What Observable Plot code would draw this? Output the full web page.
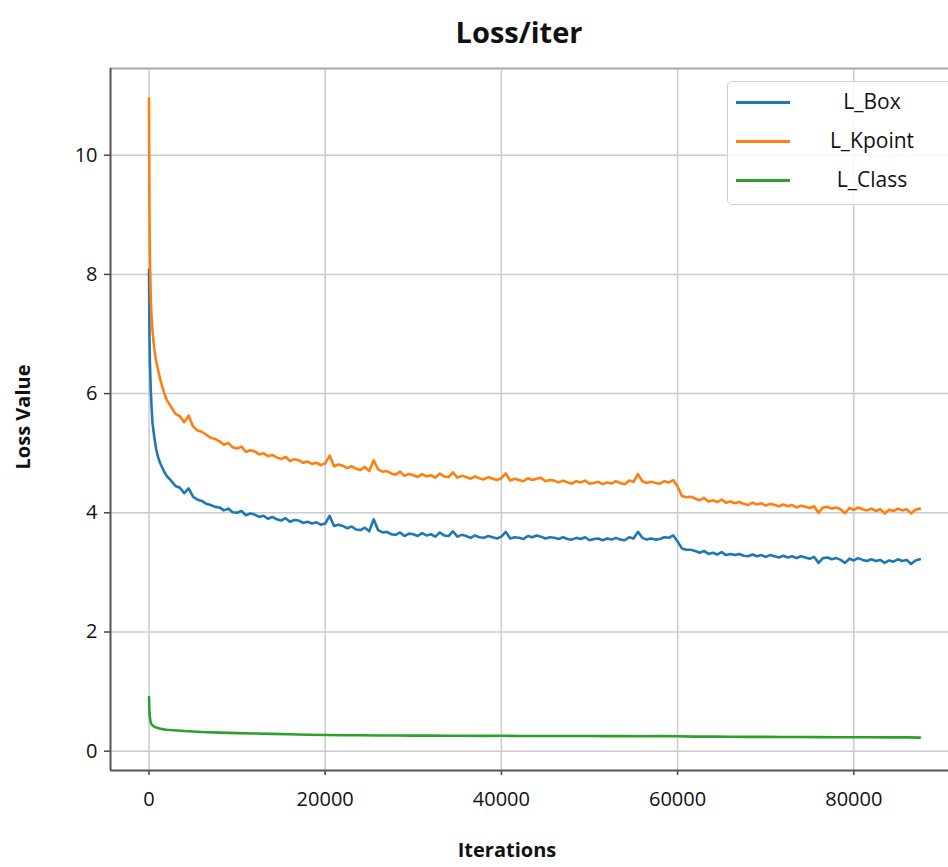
<!DOCTYPE html>
<html>
<head>
<meta charset="utf-8">
<script src="https://cdn.jsdelivr.net/npm/d3@7"></script>
<script src="https://cdn.jsdelivr.net/npm/@observablehq/plot@0.6"></script>
<style>
  html, body { margin: 0; padding: 0; background: #fff; }
  #wrap { position: relative; width: 948px; height: 867px; overflow: hidden; font-family: "Open Sans", sans-serif; color: #111; }
  #wrap svg { position: absolute; left: 0; top: 0; }
  .lbl { position: absolute; font-weight: 700; white-space: nowrap; }
  #title { left: 0; width: 1038px; top: 12px; text-align: center; font-size: 29px; line-height: 40px; }
  #xlab { left: 0; width: 1014px; top: 836px; text-align: center; font-size: 20px; line-height: 28px; }
  #ylab { left: 23px; top: 417px; font-size: 20px; line-height: 28px; transform: translate(-50%, -50%) rotate(-90deg); }
  #legend { position: absolute; left: 727px; top: 81px; width: 226px; height: 124px; border: 1px solid #d0d0d0; border-radius: 5px; background: rgba(255,255,255,0.85); box-sizing: border-box; }
  .lg-line { position: absolute; left: 8px; width: 54px; height: 3px; }
  .lg-text { position: absolute; left: 86px; width: 116px; text-align: center; font-size: 21px; line-height: 28px; color: #111; }
</style>
</head>
<body>
<div id="wrap">
  <div id="chart"></div>
  <div id="title" class="lbl">Loss/iter</div>
  <div id="xlab" class="lbl">Iterations</div>
  <div id="ylab" class="lbl">Loss Value</div>
  <div id="legend"></div>
</div>
<script>
// ---------- data ----------
const seriesNames = ["L_Box", "L_Kpoint", "L_Class"];
const seriesColors = ["#1f77b4", "#ff7f0e", "#2ca02c"];

const xTicks = [0, 20000, 40000, 60000, 80000];
const yTicks = [0, 2, 4, 6, 8, 10];

// iterations for L_Box / L_Kpoint samples
const earlyIters = [0, 50, 100, 200, 300, 400, 600, 800, 1000, 1250, 1500, 1750];
const mainIters = d3.range(2000, 88000, 500); // 2000 ... 87500
const iters = earlyIters.concat(mainIters);

const kpointValues = [
  10.95, 9.1, 8.3, 7.6, 7.25, 7.05, 6.75, 6.55, 6.42, 6.25, 6.12, 6.0,
  5.90, 5.78, 5.66, 5.62, 5.52, 5.63, 5.45, 5.38, 5.36, 5.31,
  5.26, 5.24, 5.20, 5.14, 5.17, 5.10, 5.08, 5.11, 5.02, 5.05,
  5.03, 4.98, 5.00, 4.95, 4.97, 4.93, 4.90, 4.94, 4.87, 4.90,
  4.88, 4.84, 4.86, 4.82, 4.84, 4.80, 4.83, 4.96, 4.78, 4.81,
  4.79, 4.75, 4.78, 4.74, 4.72, 4.77, 4.70, 4.88, 4.73, 4.69,
  4.70, 4.66, 4.64, 4.69, 4.62, 4.65, 4.63, 4.60, 4.65, 4.61,
  4.63, 4.59, 4.66, 4.61, 4.60, 4.68, 4.59, 4.62, 4.60, 4.57,
  4.61, 4.58, 4.56, 4.60, 4.57, 4.55, 4.58, 4.66, 4.54, 4.57,
  4.55, 4.53, 4.58, 4.55, 4.57, 4.59, 4.53, 4.55, 4.54, 4.51,
  4.54, 4.51, 4.49, 4.53, 4.51, 4.54, 4.49, 4.50, 4.52, 4.48,
  4.51, 4.49, 4.53, 4.50, 4.48, 4.54, 4.52, 4.65, 4.53, 4.50,
  4.52, 4.50, 4.49, 4.53, 4.51, 4.55, 4.44, 4.28, 4.26, 4.27,
  4.24, 4.21, 4.25, 4.19, 4.21, 4.18, 4.22, 4.17, 4.19, 4.16,
  4.18, 4.15, 4.13, 4.17, 4.14, 4.16, 4.12, 4.15, 4.13, 4.11,
  4.14, 4.11, 4.13, 4.09, 4.12, 4.10, 4.08, 4.11, 4.00, 4.09,
  4.10, 4.07, 4.09, 4.06, 3.99, 4.08, 4.05, 4.09, 4.06, 4.04,
  4.07, 4.03, 4.06, 3.99, 4.05, 4.03, 4.07, 4.04, 4.06, 3.99,
  4.05, 4.07
];

const boxValues = [
  8.08, 7.0, 6.55, 6.05, 5.75, 5.5, 5.27, 5.08, 4.95, 4.84, 4.76, 4.68,
  4.62, 4.54, 4.45, 4.42, 4.33, 4.41, 4.27, 4.22, 4.20, 4.15,
  4.13, 4.10, 4.09, 4.04, 4.07, 4.01, 4.00, 4.03, 3.96, 3.99,
  3.97, 3.93, 3.95, 3.90, 3.93, 3.89, 3.87, 3.91, 3.85, 3.88,
  3.87, 3.83, 3.85, 3.82, 3.84, 3.80, 3.82, 3.95, 3.78, 3.80,
  3.78, 3.74, 3.77, 3.72, 3.71, 3.75, 3.69, 3.89, 3.71, 3.67,
  3.68, 3.64, 3.63, 3.67, 3.61, 3.65, 3.64, 3.61, 3.66, 3.62,
  3.64, 3.60, 3.67, 3.62, 3.61, 3.69, 3.60, 3.63, 3.61, 3.58,
  3.62, 3.59, 3.58, 3.61, 3.59, 3.57, 3.60, 3.68, 3.57, 3.59,
  3.58, 3.56, 3.61, 3.59, 3.62, 3.60, 3.57, 3.59, 3.58, 3.56,
  3.59, 3.56, 3.55, 3.58, 3.56, 3.59, 3.54, 3.56, 3.57, 3.54,
  3.57, 3.55, 3.58, 3.55, 3.54, 3.59, 3.57, 3.68, 3.58, 3.55,
  3.57, 3.55, 3.56, 3.59, 3.58, 3.62, 3.52, 3.40, 3.38, 3.38,
  3.36, 3.33, 3.36, 3.31, 3.33, 3.30, 3.34, 3.29, 3.31, 3.29,
  3.31, 3.28, 3.27, 3.30, 3.27, 3.29, 3.26, 3.29, 3.27, 3.25,
  3.28, 3.25, 3.27, 3.24, 3.27, 3.25, 3.23, 3.26, 3.16, 3.24,
  3.25, 3.22, 3.24, 3.21, 3.16, 3.23, 3.20, 3.24, 3.21, 3.19,
  3.22, 3.19, 3.21, 3.16, 3.20, 3.18, 3.22, 3.19, 3.21, 3.14,
  3.20, 3.22
];

// L_Class samples (own iteration list)
const classIters = [0, 50, 100, 200, 300, 500, 750, 1000, 1500,
  2000, 4000, 6000, 8000, 10000, 12000, 14000, 16000, 18000, 20000,
  22000, 24000, 26000, 28000, 30000, 32000, 34000, 36000, 38000, 40000,
  42000, 44000, 46000, 48000, 50000, 52000, 54000, 56000, 58000, 60000,
  62000, 64000, 66000, 68000, 70000, 72000, 74000, 76000, 78000, 80000,
  82000, 84000, 86000, 87500];
const classValues = [0.91, 0.65, 0.56, 0.48, 0.45, 0.42, 0.40, 0.39, 0.37,
  0.36, 0.34, 0.322, 0.312, 0.303, 0.298, 0.290, 0.284, 0.276, 0.272,
  0.268, 0.267, 0.264, 0.263, 0.262, 0.261, 0.259, 0.260, 0.257, 0.258,
  0.256, 0.255, 0.256, 0.254, 0.254, 0.252, 0.253, 0.251, 0.252, 0.250,
  0.245, 0.244, 0.242, 0.241, 0.240, 0.238, 0.238, 0.236, 0.235, 0.234,
  0.233, 0.232, 0.231, 0.228];

// ---------- build table ----------
const rows = [];
iters.forEach((it, i) => {
  rows.push({series: "L_Box", it, v: boxValues[i]});
});
iters.forEach((it, i) => {
  rows.push({series: "L_Kpoint", it, v: kpointValues[i]});
});
classIters.forEach((it, i) => {
  rows.push({series: "L_Class", it, v: classValues[i]});
});

const xDomain = [-4370, 90750];
const yDomain = [-0.324, 11.455];

const chart = Plot.plot({
  width: 948,
  height: 867,
  marginLeft: 110,
  marginRight: 0,
  marginTop: 68,
  marginBottom: 97,
  style: {fontFamily: "Open Sans", fontSize: "20px", color: "#111", background: "transparent"},
  x: {domain: xDomain},
  y: {domain: yDomain},
  color: {domain: seriesNames, range: seriesColors},
  marks: [
    Plot.gridX(xTicks, {stroke: "#cccccc", strokeOpacity: 1, strokeWidth: 1.5}),
    Plot.gridY(yTicks, {stroke: "#cccccc", strokeOpacity: 1, strokeWidth: 1.5}),
    Plot.axisX({ticks: xTicks, tickFormat: d => String(d), tickSize: 5, tickPadding: 16, label: null, stroke: "#444", strokeWidth: 1.5}),
    Plot.axisY({ticks: yTicks, tickFormat: d => String(d), tickSize: 6, tickPadding: 7, label: null, stroke: "#444", strokeWidth: 1.5}),
    Plot.ruleY([yDomain[1]], {stroke: "#aaaaaa", strokeWidth: 2}),
    Plot.line(rows, {x: "it", y: "v", z: "series", stroke: "series", strokeWidth: 2.6, strokeLinejoin: "round", clip: true}),
    Plot.ruleX([xDomain[0]], {stroke: "#555", strokeWidth: 2}),
    Plot.ruleY([yDomain[0]], {stroke: "#555", strokeWidth: 2})
  ]
});
document.getElementById("chart").appendChild(chart);

// ---------- legend ----------
const legend = document.getElementById("legend");
const rowCenters = [20, 59, 98];
seriesNames.forEach((name, i) => {
  const ln = document.createElement("div");
  ln.className = "lg-line";
  ln.style.top = (rowCenters[i] - 1.5) + "px";
  ln.style.background = seriesColors[i];
  legend.appendChild(ln);
  const tx = document.createElement("div");
  tx.className = "lg-text";
  tx.style.top = (rowCenters[i] - 15) + "px";
  tx.textContent = name;
  legend.appendChild(tx);
});
</script>
</body>
</html>
